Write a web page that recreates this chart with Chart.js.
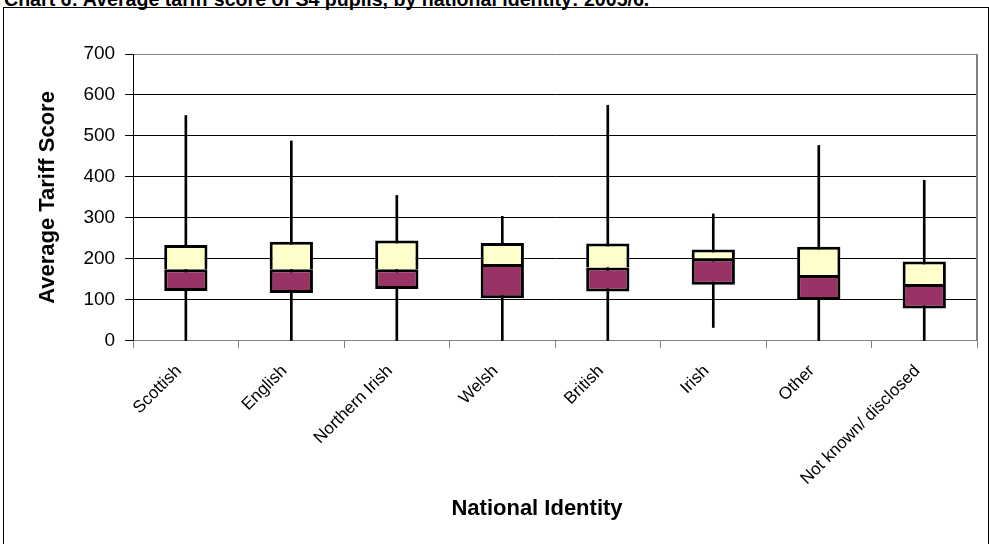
<!DOCTYPE html>
<html lang="en">
  <head>
    <meta charset="UTF-8" />
    <title>Average tariff score by national identity</title>
    <script src="https://cdn.jsdelivr.net/npm/chart.js"></script>
    <style>
      body {
        margin: 0;
        background: #fff;
        width: 989px;
        height: 544px;
        overflow: hidden;
        position: relative;
        font-family: Arial, "Liberation Sans", sans-serif;
      }

      .title {
        position: absolute;
        left: 4px;
        top: -12px;
        font-weight: bold;
        font-size: 19.6px;
        line-height: 22px;
        white-space: nowrap;
      }

      .frame {
        position: absolute;
        left: 3px;
        top: 7px;
        width: 984px;
        height: 600px;
        border: 1px solid #000;
      }

      #boxChart {
        position: absolute;
        left: 0;
        top: 0;
      }
    </style>
  </head>
  <body>
    <div class="title">Chart 6: Average tariff score of S4 pupils, by national identity: 2005/6.</div>
    <div class="frame"></div>
    <canvas id="boxChart" width="989" height="544"></canvas>
  </body>
</html>

<script>
  // national identity groups
  const categories = [
    "Scottish",
    "English",
    "Northern Irish",
    "Welsh",
    "British",
    "Irish",
    "Other",
    "Not known/ disclosed",
  ];

  // tariff score spread per group
  const minScores = [0, 0, 0, 0, 0, 33, 0, 0];
  const lowerQuartile = [122, 117, 127, 104, 121, 137, 100, 79];
  const medianScores = [175, 175, 175, 188, 179, 201, 161, 139];
  const upperQuartile = [234, 242, 245, 239, 238, 223, 230, 194];
  const maxScores = [550, 488, 355, 304, 575, 310, 477, 392];

  const lowerBox = categories.map((c, i) => [lowerQuartile[i], medianScores[i]]);
  const upperBox = categories.map((c, i) => [medianScores[i], upperQuartile[i]]);
  const whisker = categories.map((c, i) => [minScores[i], maxScores[i]]);

  const plotFrame = {
    id: "plotFrame",
    afterDraw(chart) {
      const { ctx, chartArea } = chart;
      ctx.save();
      ctx.strokeStyle = "#808080";
      ctx.lineWidth = 2;
      ctx.beginPath();
      ctx.moveTo(chartArea.right, chartArea.top);
      ctx.lineTo(chartArea.right, chartArea.bottom);
      ctx.stroke();
      // x axis title sits a little left of the plot centre in the original
      ctx.fillStyle = "#000";
      ctx.font = "bold 22px Arial, 'Liberation Sans', sans-serif";
      ctx.textAlign = "center";
      ctx.textBaseline = "middle";
      ctx.fillText("National Identity", 537, 509);
      ctx.restore();
    },
  };

  const boxStyle = {
    borderColor: "#000",
    borderSkipped: false,
    grouped: false,
    categoryPercentage: 1,
    barPercentage: 0.41,
  };

  let ctx = document.getElementById("boxChart");

  let chart = new Chart(ctx, {
    type: "bar",
    data: {
      labels: categories,
      datasets: [
        {
          label: "Median to upper quartile",
          data: upperBox,
          backgroundColor: "#FFFFCC",
          borderWidth: { top: 3, left: 3, right: 3, bottom: 0 },
          order: 1,
          ...boxStyle,
        },
        {
          label: "Lower quartile to median",
          data: lowerBox,
          backgroundColor: "#993366",
          borderWidth: 3,
          order: 2,
          ...boxStyle,
        },
        {
          label: "Range",
          data: whisker,
          backgroundColor: "#000",
          barThickness: 2,
          grouped: false,
          order: 3,
        },
      ],
    },
    options: {
      responsive: false,
      animation: false,
      layout: {
        padding: { left: 4, top: 54, right: 12, bottom: 42 },
      },
      plugins: {
        legend: { display: false },
        tooltip: { enabled: false },
      },
      scales: {
        x: {
          grid: {
            drawOnChartArea: false,
            offset: true,
            tickLength: 7,
            color: "#808080",
          },
          border: { color: "#808080" },
          ticks: {
            color: "#000",
            padding: 13,
            labelOffset: -7,
            font: { family: "Arial, 'Liberation Sans', sans-serif", size: 17 },
            minRotation: 45,
            maxRotation: 45,
            autoSkip: false,
          },
        },
        y: {
          min: 0,
          max: 700,
          ticks: {
            stepSize: 100,
            color: "#000",
            padding: 10,
            font: { family: "Arial, 'Liberation Sans', sans-serif", size: 19 },
          },
          grid: {
            color: (c) => (c.tick && c.tick.value === 700 ? "#808080" : "#000"),
            tickColor: "#000",
            tickLength: 8,
          },
          border: { color: "#000" },
          title: {
            display: true,
            text: "Average Tariff Score",
            color: "#000",
            font: { family: "Arial, 'Liberation Sans', sans-serif", size: 22, weight: "bold" },
            padding: { top: 31, bottom: 12 },
          },
        },
      },
    },
    plugins: [plotFrame],
  });
</script>
